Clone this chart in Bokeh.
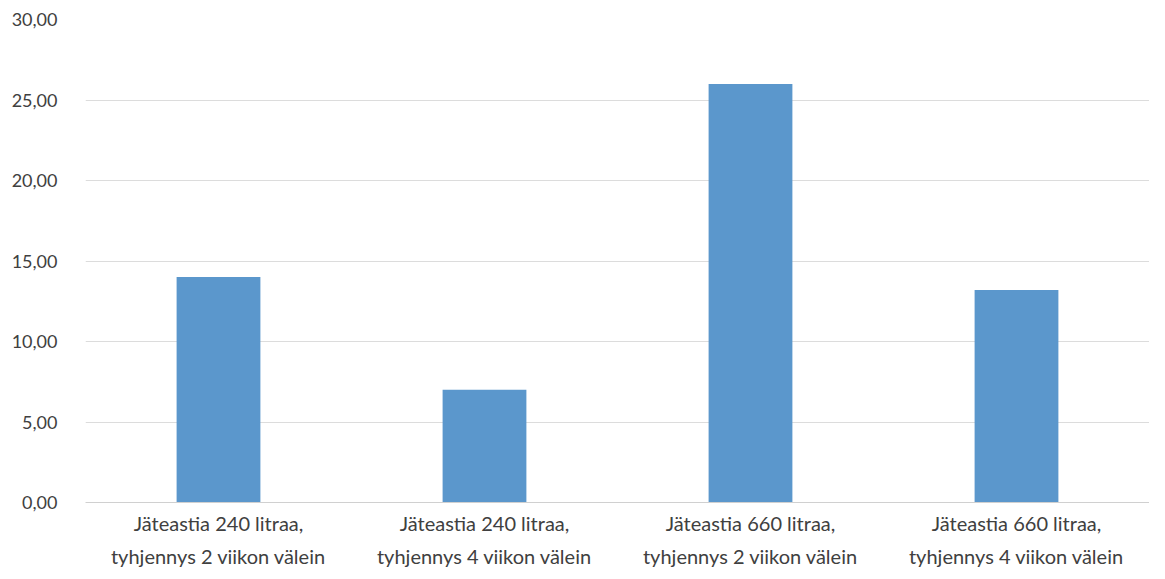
from bokeh.plotting import figure
from bokeh.models import ColumnDataSource, FactorRange, Range1d, CustomJSTickFormatter, FixedTicker
from bokeh.embed import file_html
from bokeh.resources import INLINE

categories = [
    "Jäteastia 240 litraa,\ntyhjennys 2 viikon välein",
    "Jäteastia 240 litraa,\ntyhjennys 4 viikon välein",
    "Jäteastia 660 litraa,\ntyhjennys 2 viikon välein",
    "Jäteastia 660 litraa,\ntyhjennys 4 viikon välein",
]
values = [14.0, 7.0, 26.0, 13.2]
y_ticks = [0, 5, 10, 15, 20, 25, 30]

src = ColumnDataSource(dict(cat=categories, val=values))

p = figure(x_range=FactorRange(*categories, range_padding=0.0),
           y_range=Range1d(0, 30),
           width=1149, height=571, output_backend="svg", toolbar_location=None,
           min_border_left=85, min_border_right=0, min_border_top=19, min_border_bottom=66)

p.vbar(x="cat", top="val", width=0.315, source=src, fill_color="#5b97cc", line_color=None)

p.outline_line_color = None
p.background_fill_color = "white"
p.border_fill_color = "white"

p.xgrid.grid_line_color = None
p.ygrid.grid_line_color = "#dcdcdc"
p.ygrid.grid_line_width = 1

p.yaxis.ticker = FixedTicker(ticks=y_ticks)
p.yaxis.formatter = CustomJSTickFormatter(code="return tick.toFixed(2).replace('.', ',');")
p.yaxis.axis_line_color = None
p.yaxis.major_tick_line_color = None
p.yaxis.minor_tick_line_color = None
p.yaxis.major_label_text_font = "Lato"
p.yaxis.major_label_text_font_size = "18px"
p.yaxis.major_label_text_color = "#404040"
p.yaxis.major_label_standoff = 22

p.xaxis.axis_line_color = "#d0d0d0"
p.xaxis.major_tick_line_color = None
p.xaxis.minor_tick_line_color = None
p.xaxis.major_label_text_font = "Lato"
p.xaxis.major_label_text_font_size = "20px"
p.xaxis.major_label_text_color = "#404040"
p.xaxis.major_label_standoff = 2
p.xaxis.major_label_text_line_height = 1.4

open("out.html", "w").write(file_html(p, INLINE))
